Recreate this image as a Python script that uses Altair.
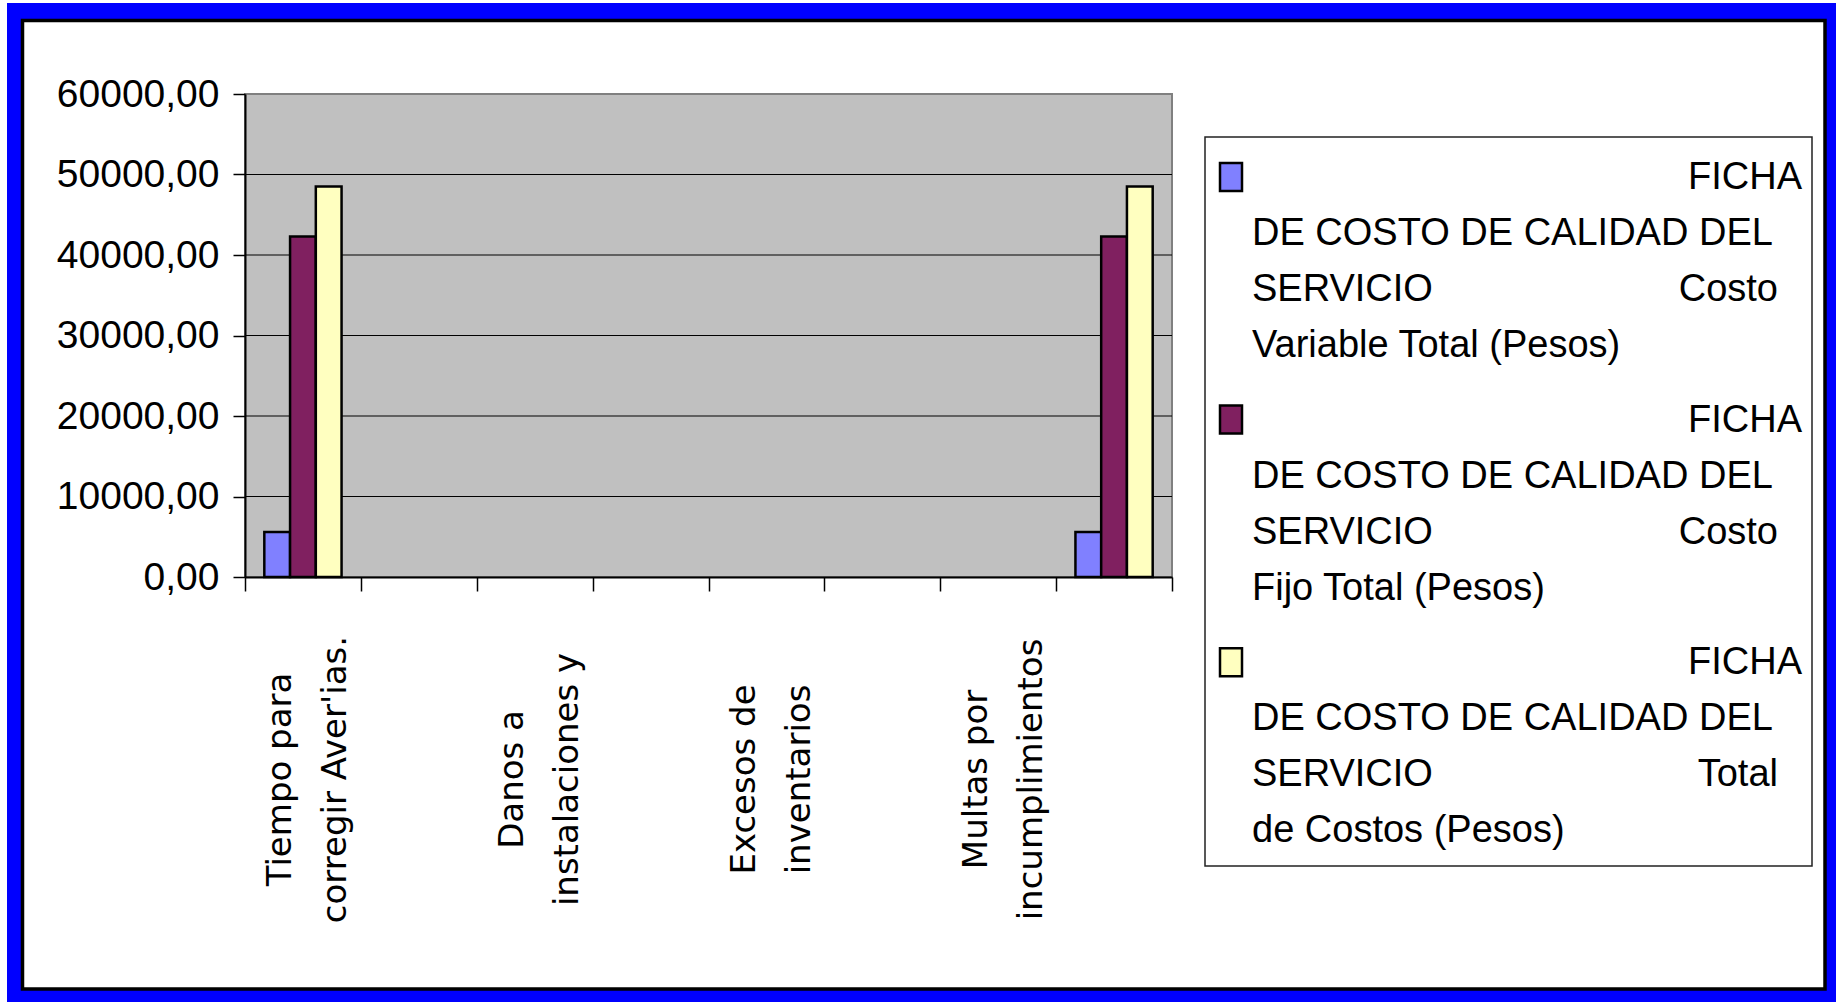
import json
import altair as alt
import pandas as pd

# ---- data -------------------------------------------------------------
CATEGORY_IDS = [1, 2, 3, 4, 5, 6, 7, 8]
CATEGORY_LABELS = [
    ["Tiempo para", "corregir Aver'ias."], "",
    ["Danos a", "instalaciones y"], "",
    ["Excesos de", "inventarios"], "",
    ["Multas por", "incumplimientos"], "",
]
SERIES = [
    "FICHA DE COSTO DE CALIDAD DEL SERVICIO Costo Variable Total (Pesos)",
    "FICHA DE COSTO DE CALIDAD DEL SERVICIO Costo Fijo Total (Pesos)",
    "FICHA DE COSTO DE CALIDAD DEL SERVICIO Total de Costos (Pesos)",
]
COLORS = ["#8080FF", "#802060", "#FFFFC0"]
COSTO_VARIABLE = [5600, None, None, None, None, None, None, 5600]
COSTO_FIJO = [42300, None, None, None, None, None, None, 42300]
TOTAL_COSTOS = [48500, None, None, None, None, None, None, 48500]
Y_TICKS = [0, 10000, 20000, 30000, 40000, 50000, 60000]

# ---- layout (page pixels) ---------------------------------------------
PAGE_W, PAGE_H = 1836, 1002
PLOT_L, PLOT_T, PLOT_R, PLOT_B = 245, 94, 1172, 577
W, H = PLOT_R - PLOT_L, PLOT_B - PLOT_T


def px(x):
    return x - PLOT_L


def py(y):
    return y - PLOT_T


FONT = "Liberation Sans"

rows = []
for name, vals in zip(SERIES, [COSTO_VARIABLE, COSTO_FIJO, TOTAL_COSTOS]):
    for c, v in zip(CATEGORY_IDS, vals):
        rows.append({"cat": c, "series": name, "value": v})
bars_df = pd.DataFrame(rows)

one = pd.DataFrame({"k": [0]})

# outer blue frame with black inner edge
frame_blue = alt.Chart(one).mark_rect(fill="#0000FF").encode(
    x=alt.value(px(7)), x2=alt.value(px(PAGE_W)),
    y=alt.value(py(3)), y2=alt.value(py(PAGE_H)),
)
frame_white = alt.Chart(one).mark_rect(fill="white", stroke="black", strokeWidth=3.5).encode(
    x=alt.value(px(22.5)), x2=alt.value(px(1825)),
    y=alt.value(py(20.5)), y2=alt.value(py(989)),
)

# grey plot area
plot_bg = alt.Chart(one).mark_rect(fill="#C0C0C0", stroke="#808080", strokeWidth=2).encode(
    x=alt.value(0), x2=alt.value(W), y=alt.value(0), y2=alt.value(H),
)

Y_SCALE = alt.Scale(domain=[0, 60000])
Y_AXIS = alt.Axis(
    title=None, values=Y_TICKS,
    labelExpr="replace(format(datum.value, '.2f'), '.', ',')",
    labelFont=FONT, labelFontSize=39, labelPadding=14, labelColor="black",
    tickSize=12, tickColor="black", tickWidth=1.5,
    domainColor="black", domainWidth=2, grid=False, zindex=1,
)

# horizontal grid lines, drawn under the bars
grid = alt.Chart(pd.DataFrame({"value": Y_TICKS[1:-1]})).mark_rule(
    color="black", strokeWidth=1.2
).encode(
    y=alt.Y("value:Q", scale=Y_SCALE, axis=Y_AXIS),
    x=alt.value(0), x2=alt.value(W),
)

x_label_expr = json.dumps(CATEGORY_LABELS, ensure_ascii=False) + "[datum.value - 1]"

bars = alt.Chart(bars_df).mark_bar(stroke="black", strokeWidth=2.5).encode(
    x=alt.X(
        "cat:O",
        scale=alt.Scale(domain=CATEGORY_IDS, paddingInner=0, paddingOuter=0),
        axis=alt.Axis(
            title=None, labelExpr=x_label_expr, labelAngle=270,
            labelAlign="center", labelBaseline="middle",
            labelFont="DejaVu Sans", labelFontSize=34, labelLineHeight=55,
            labelPadding=188, labelOffset=-22, labelLimit=0,
            labelColor="black", labelOverlap=False,
            tickSize=14, tickColor="black", tickWidth=1.5, tickBand="extent",
            domainColor="black", domainWidth=2, zindex=1,
        ),
    ),
    xOffset=alt.XOffset(
        "series:N", scale=alt.Scale(domain=SERIES, paddingInner=0, paddingOuter=0.75)
    ),
    y=alt.Y("value:Q", scale=Y_SCALE, axis=Y_AXIS),
    color=alt.Color("series:N", scale=alt.Scale(domain=SERIES, range=COLORS), legend=None),
)

# ---- legend box ---------------------------------------------------------
LEG_L, LEG_T, LEG_R, LEG_B = 1205, 137, 1812, 866
ENTRY_STEP = 242.6
LINE = 56
FIRST_BASE = 189
TEXT_X = 1252
FIRST_RIGHT = 1802
WORD_RIGHT = 1778

legend_layers = [
    alt.Chart(one).mark_rect(fill="white", stroke="#222222", strokeWidth=1.5).encode(
        x=alt.value(px(LEG_L)), x2=alt.value(px(LEG_R)),
        y=alt.value(py(LEG_T)), y2=alt.value(py(LEG_B)),
    )
]


def legend_text(t, x, y, align):
    return alt.Chart(one).mark_text(
        align=align, baseline="alphabetic", font=FONT, fontSize=38, color="black"
    ).encode(x=alt.value(px(x)), y=alt.value(py(y)), text=alt.value(t))


for k, (name, col) in enumerate(zip(SERIES, COLORS)):
    w = name.split()
    base = FIRST_BASE + k * ENTRY_STEP
    legend_layers.append(
        alt.Chart(one).mark_rect(fill=col, stroke="black", strokeWidth=2.5).encode(
            x=alt.value(px(1220)), x2=alt.value(px(1242)),
            y=alt.value(py(163 + k * ENTRY_STEP)), y2=alt.value(py(191 + k * ENTRY_STEP)),
        )
    )
    legend_layers += [
        legend_text(w[0], FIRST_RIGHT, base, "right"),
        legend_text(" ".join(w[1:6]), TEXT_X, base + LINE, "left"),
        legend_text(w[6], TEXT_X, base + 2 * LINE, "left"),
        legend_text(w[7], WORD_RIGHT, base + 2 * LINE, "right"),
        legend_text(" ".join(w[8:]), TEXT_X, base + 3 * LINE, "left"),
    ]

chart = alt.layer(
    frame_blue, frame_white, plot_bg, grid, bars, *legend_layers
).properties(
    width=W, height=H,
    autosize=alt.AutoSizeParams(type="none"),
    padding={"left": PLOT_L, "top": PLOT_T, "right": PAGE_W - PLOT_R, "bottom": PAGE_H - PLOT_B},
    background="white",
).configure_view(stroke="transparent")

chart.save("out.html", embed_options={"renderer": "svg", "actions": False})
